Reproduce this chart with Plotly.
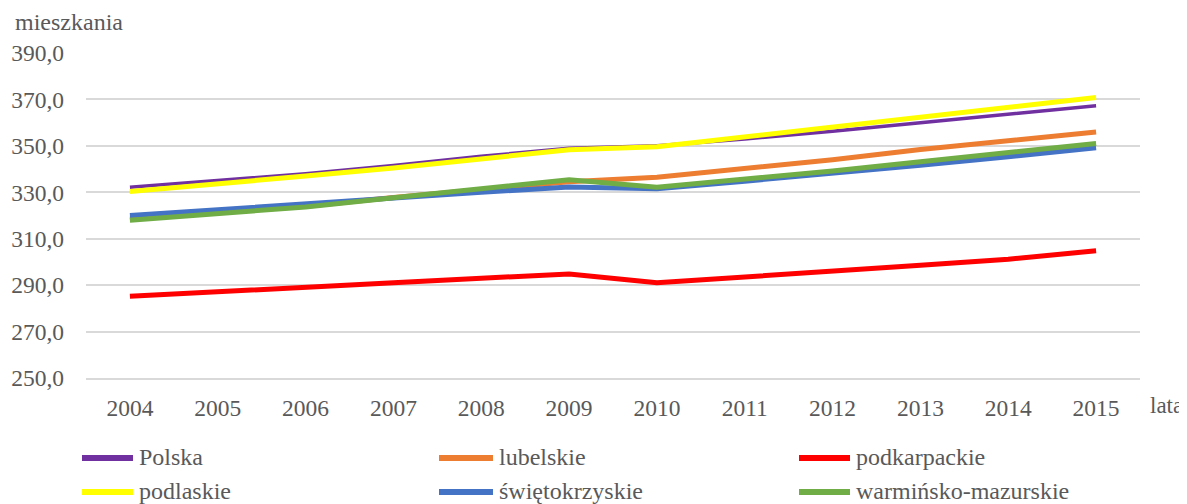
import plotly.graph_objects as go

years = ["2004", "2005", "2006", "2007", "2008", "2009", "2010", "2011", "2012", "2013", "2014", "2015"]
polska = [332.2, 335.0, 338.0, 341.5, 345.5, 349.0, 350.0, 353.0, 356.3, 360.0, 363.6, 367.3]
lubelskie = [318.5, 321.0, 324.0, 327.8, 331.3, 334.5, 336.5, 340.0, 344.0, 348.4, 352.2, 356.0]
podkarpackie = [285.2, 287.0, 289.0, 291.0, 293.0, 294.8, 291.0, 293.4, 296.0, 298.6, 301.2, 304.8]
podlaskie = [330.3, 333.5, 337.0, 340.5, 344.3, 348.3, 349.6, 353.8, 357.8, 362.0, 366.4, 370.8]
swietokrzyskie = [320.0, 322.6, 325.0, 327.5, 330.0, 332.3, 331.5, 334.8, 338.0, 341.6, 345.3, 349.2]
warminsko = [318.0, 320.6, 323.7, 327.6, 331.6, 335.4, 332.2, 335.5, 339.2, 343.2, 347.0, 351.0]

names = ["Polska", "lubelskie", "podkarpackie", "podlaskie", "świętokrzyskie", "warmińsko-mazurskie"]
series = [polska, lubelskie, podkarpackie, podlaskie, swietokrzyskie, warminsko]
colors = ["#7030A0", "#ED7D31", "#FF0000", "#FFFF00", "#4472C4", "#70AD47"]
widths = [3.5, 5, 5, 5, 5, 5]

y_ticks = [250, 270, 290, 310, 330, 350, 370, 390]
y_labels = ["250,0", "270,0", "290,0", "310,0", "330,0", "350,0", "370,0", "390,0"]

FONT = "Liberation Serif"
GRAY = "#595959"
OFF = 8  # page body margin
W, H = 1187 - OFF, 504 - OFF
PL, PT, PR, PB = 86, 53, 1140, 378  # plot area in page pixels
ML, MT = PL - OFF, PT - OFF
PW, PH = PR - PL, PB - PT
MR, MB = W - ML - PW, H - MT - PH


def px(x):
    return (x - PL) / PW


def py(y):
    return (PB - y) / PH


fig = go.Figure()
for n, s, c, w in zip(names, series, colors, widths):
    fig.add_trace(go.Scatter(x=years, y=s, name=n, mode="lines",
                             line=dict(color=c, width=w), showlegend=False))

annotations = [
    dict(text="mieszkania", xref="paper", yref="paper", x=px(13), y=py(22),
         xanchor="left", yanchor="middle", showarrow=False,
         font=dict(family=FONT, size=24, color=GRAY)),
    dict(text="lata", xref="paper", yref="paper", x=px(1148), y=py(405),
         xanchor="left", yanchor="middle", showarrow=False,
         font=dict(family=FONT, size=23, color=GRAY)),
]
shapes = []
col_x = [80, 437, 797]
col_len = [55, 58, 55]
row_y = [458, 492]
for i, (n, c) in enumerate(zip(names, colors)):
    r, k = divmod(i, 3)
    x0 = col_x[k]
    x1 = x0 + col_len[k]
    yy = row_y[r]
    shapes.append(dict(type="line", xref="paper", yref="paper",
                       x0=px(x0 + 2), x1=px(x1 - 2), y0=py(yy), y1=py(yy),
                       line=dict(color=c, width=6)))
    annotations.append(dict(text=n, xref="paper", yref="paper", x=px(x1 + 2), y=py(yy - 1),
                            xanchor="left", yanchor="middle", showarrow=False,
                            font=dict(family=FONT, size=24, color=GRAY)))

fig.update_layout(
    width=W, height=H,
    margin=dict(l=ML, r=MR, t=MT, b=MB, autoexpand=False),
    plot_bgcolor="white", paper_bgcolor="white",
    font=dict(family=FONT, size=23, color=GRAY),
    showlegend=False,
    xaxis=dict(type="category", range=[-0.5, 11.5], showgrid=False,
               showline=True, linecolor="#D9D9D9", linewidth=1.5,
               ticks="", ticklabelstandoff=8,
               tickfont=dict(family=FONT, size=23.5, color=GRAY)),
    yaxis=dict(range=[250, 390], tickvals=y_ticks, ticktext=y_labels,
               showgrid=True, gridcolor="#D9D9D9", gridwidth=1.5,
               zeroline=False, ticks="", ticklabelstandoff=21,
               tickfont=dict(family=FONT, size=23.5, color=GRAY)),
    annotations=annotations,
    shapes=shapes,
)

fig.write_html("out.html")
